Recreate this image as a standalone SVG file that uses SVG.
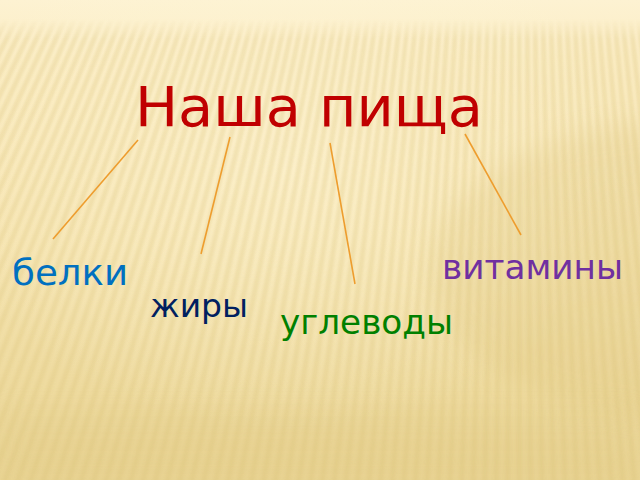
<svg xmlns="http://www.w3.org/2000/svg" width="640" height="480" viewBox="0 0 640 480">
<defs>
<linearGradient id="bg" x1="0" y1="0" x2="0" y2="1">
<stop offset="0" stop-color="#FDF2D2"/>
<stop offset="0.12" stop-color="#FBEDC4"/>
<stop offset="0.5" stop-color="#F6E5B2"/>
<stop offset="1" stop-color="#E9D493"/>
</linearGradient>
<radialGradient id="glow" cx="0.45" cy="0.35" r="0.55">
<stop offset="0" stop-color="#FFF6D8" stop-opacity="0.55"/>
<stop offset="1" stop-color="#FFF6D8" stop-opacity="0"/>
</radialGradient>
<linearGradient id="fade" x1="0" y1="0" x2="0" y2="480" gradientUnits="userSpaceOnUse">
<stop offset="0.04" stop-color="#fff" stop-opacity="0"/>
<stop offset="0.08" stop-color="#fff" stop-opacity="1"/>
<stop offset="1" stop-color="#fff" stop-opacity="0.8"/>
</linearGradient>
<mask id="m"><rect width="640" height="480" fill="url(#fade)"/></mask>
<filter id="soft" x="-0.1" y="-0.1" width="1.2" height="1.2"><feGaussianBlur stdDeviation="0.9"/></filter>
<filter id="blur" x="-0.5" y="-0.5" width="2" height="2"><feGaussianBlur stdDeviation="12"/></filter>
</defs>
<style>
.lbl{font-family:"DejaVu Sans","Verdana",sans-serif}
.con{stroke:#EE9D2E;stroke-width:1.6;fill:none}
</style>
<rect width="640" height="480" fill="url(#bg)"/>
<rect width="640" height="480" fill="url(#glow)"/>
<ellipse cx="690" cy="270" rx="260" ry="150" fill="#D8BE72" opacity="0.2" filter="url(#blur)"/>
<rect x="0" y="410" width="640" height="70" fill="#D8C07A" opacity="0.14" filter="url(#blur)"/>
<g mask="url(#m)">
<circle cx="520" cy="-1000" r="1300" fill="none" stroke="#D9BE70" stroke-opacity="0.26" stroke-width="620" stroke-dasharray="5 5.1" filter="url(#soft)"/>
</g>
<g id="connectors">
<line class="con" x1="138" y1="140" x2="53" y2="239"/>
<line class="con" x1="230" y1="137" x2="201" y2="254"/>
<line class="con" x1="330" y1="143" x2="355" y2="284"/>
<line class="con" x1="465" y1="134" x2="521" y2="235"/>
</g>
<g id="title"><text class="lbl" x="135" y="126" font-size="56" fill="#C00000" textLength="348" lengthAdjust="spacingAndGlyphs">Наша пища</text></g>
<g id="belki"><text class="lbl" x="12" y="285" font-size="36" fill="#0070C0" textLength="116" lengthAdjust="spacingAndGlyphs">белки</text></g>
<g id="zhiry"><text class="lbl" x="150" y="317" font-size="32" fill="#002060" textLength="98" lengthAdjust="spacingAndGlyphs">жиры</text></g>
<g id="uglevody"><text class="lbl" x="280" y="334" font-size="34" fill="#008000" textLength="173" lengthAdjust="spacingAndGlyphs">углеводы</text></g>
<g id="vitaminy"><text class="lbl" x="442" y="279" font-size="34" fill="#7030A0" textLength="181" lengthAdjust="spacingAndGlyphs">витамины</text></g>
</svg>
